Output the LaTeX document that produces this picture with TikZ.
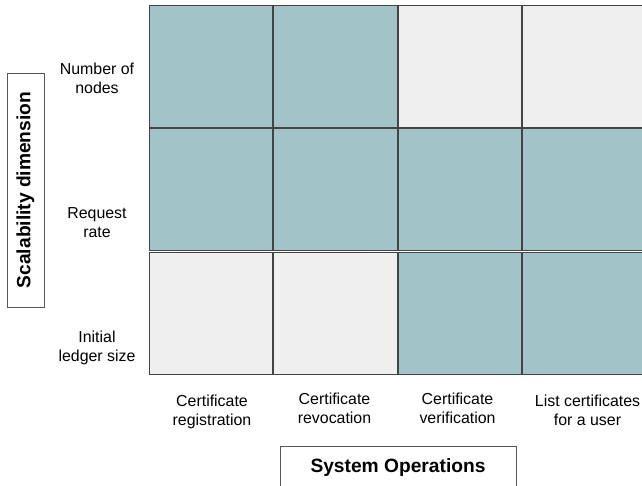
\documentclass[tikz,border=0pt]{standalone}
\usepackage{fontspec}
\setmainfont{Liberation Sans}
\definecolor{cellteal}{HTML}{A2C4C9}
\definecolor{cellgray}{HTML}{EFEFEF}
\definecolor{edgegray}{HTML}{444444}
\begin{document}
\begin{tikzpicture}[x=1pt,y=-1pt,
  cell/.style={draw=edgegray, line width=0.9pt, minimum width=123.2pt, minimum height=122pt, inner sep=0pt, outer sep=0pt},
  on/.style={cell, fill=cellteal},
  off/.style={cell, fill=cellgray},
  lbl/.style={font=\fontsize{15.9}{19}\selectfont, align=center, inner sep=0pt},
  titlebox/.style={draw=edgegray!90, line width=1pt, inner sep=0pt, font=\bfseries\fontsize{19.2}{22}\selectfont}]
\useasboundingbox (0,0) rectangle (642,485);
\clip (0,0) rectangle (642,485);
% grid cells
\node[on]  (c11) at (211,66.5) {};
\node[on]  (c12) at (335.5,66.5) {};
\node[off] (c13) at (460,66.5) {};
\node[off] (c14) at (584.5,66.5) {};
\node[on]  (c21) at (211,189.8) {};
\node[on]  (c22) at (335.5,189.8) {};
\node[on]  (c23) at (460,189.8) {};
\node[on]  (c24) at (584.5,189.8) {};
\node[off] (c31) at (211,313.1) {};
\node[off] (c32) at (335.5,313.1) {};
\node[on]  (c33) at (460,313.1) {};
\node[on]  (c34) at (584.5,313.1) {};
% row labels
\node[lbl] (r1) at (97,78.5) {Number of\\nodes};
\node[lbl] (r2) at (97,222.5) {Request\\rate};
\node[lbl] (r3) at (97,347.5) {Initial\\ledger size};
% column labels
\node[lbl] (k1) at (212,411.5) {Certificate\\registration};
\node[lbl] (k2) at (334.5,408.3) {Certificate\\revocation};
\node[lbl] (k3) at (457.5,408.3) {Certificate\\verification};
\node[lbl] (k4) at (587.5,410) {List certificates\\for a user};
% axis titles
\node[titlebox, rotate=90, minimum width=234pt, minimum height=37pt] (sd) at (25.5,190) {Scalability dimension};
\node[titlebox, minimum width=236pt, minimum height=44pt] (ops) at (398,468) {System Operations};
\end{tikzpicture}
\end{document}
